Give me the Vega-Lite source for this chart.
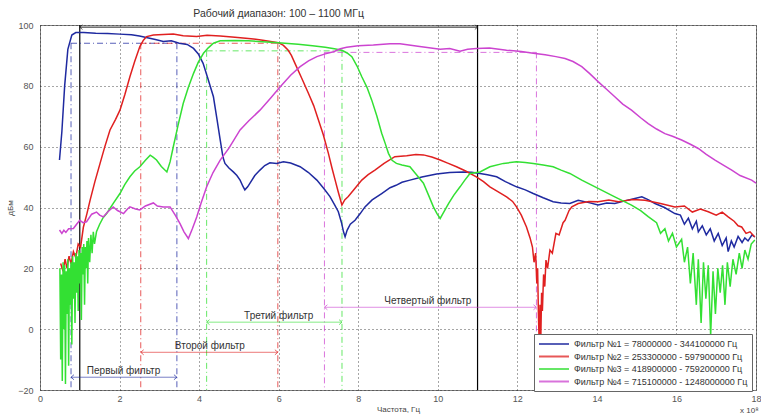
{
  "$schema": "https://vega.github.io/schema/vega-lite/v6.json",
  "width": 716,
  "height": 365,
  "autosize": {"type": "none"},
  "padding": {"left": 40, "top": 25, "right": 5, "bottom": 29},
  "background": "white",
  "config": {
    "font": "Liberation Sans",
    "view": {"stroke": "#808080", "strokeWidth": 1},
    "axis": {
      "grid": true, "gridColor": "#222", "gridDash": [1, 3], "gridOpacity": 0.8,
      "domain": false, "ticks": false, "labelColor": "#555", "labelFontSize": 9,
      "titleFontWeight": "normal", "titleFontSize": 8, "titleColor": "#444"
    },
    "axisX": {"labelFlush": false, "labelOverlap": false, "labelBound": false, "labelPadding": 4, "titlePadding": 2},
    "axisY": {"labelPadding": 7, "titlePadding": 3}
  },
  "datasets": {
    "curves": [
      {"s":"F1","x":0.49,"y":55.6},{"s":"F1","x":0.55,"y":65},{"s":"F1","x":0.62,"y":80},{"s":"F1","x":0.7,"y":92},{"s":"F1","x":0.8,"y":96.7},{"s":"F1","x":0.9,"y":97.5},{"s":"F1","x":1.1,"y":97.5},{"s":"F1","x":1.4,"y":97.3},{"s":"F1","x":1.7,"y":97.2},{"s":"F1","x":2.0,"y":97.0},{"s":"F1","x":2.3,"y":96.8},{"s":"F1","x":2.5,"y":96.4},{"s":"F1","x":2.7,"y":95.8},{"s":"F1","x":2.9,"y":95.2},{"s":"F1","x":3.1,"y":94.6},{"s":"F1","x":3.3,"y":94.8},{"s":"F1","x":3.5,"y":94.0},{"s":"F1","x":3.7,"y":93.6},{"s":"F1","x":3.86,"y":92.3},{"s":"F1","x":3.98,"y":90.5},{"s":"F1","x":4.1,"y":87.4},{"s":"F1","x":4.23,"y":82},{"s":"F1","x":4.36,"y":76.4},{"s":"F1","x":4.45,"y":69},{"s":"F1","x":4.53,"y":62.2},{"s":"F1","x":4.6,"y":56.5},{"s":"F1","x":4.65,"y":54.5},{"s":"F1","x":4.75,"y":53},{"s":"F1","x":4.86,"y":51.7},{"s":"F1","x":4.95,"y":50.5},{"s":"F1","x":5.03,"y":49},{"s":"F1","x":5.1,"y":47},{"s":"F1","x":5.15,"y":45.8},{"s":"F1","x":5.22,"y":46.8},{"s":"F1","x":5.28,"y":48},{"s":"F1","x":5.4,"y":50.5},{"s":"F1","x":5.53,"y":52.3},{"s":"F1","x":5.65,"y":53.8},{"s":"F1","x":5.78,"y":54.7},{"s":"F1","x":5.95,"y":54.5},{"s":"F1","x":6.12,"y":55.0},{"s":"F1","x":6.3,"y":54.6},{"s":"F1","x":6.54,"y":53.4},{"s":"F1","x":6.75,"y":51.5},{"s":"F1","x":6.96,"y":49},{"s":"F1","x":7.15,"y":46},{"s":"F1","x":7.29,"y":43.6},{"s":"F1","x":7.4,"y":41},{"s":"F1","x":7.5,"y":38.6},{"s":"F1","x":7.58,"y":35},{"s":"F1","x":7.63,"y":32},{"s":"F1","x":7.67,"y":30.4},{"s":"F1","x":7.72,"y":32.5},{"s":"F1","x":7.8,"y":34.5},{"s":"F1","x":7.92,"y":35.8},{"s":"F1","x":8.05,"y":38},{"s":"F1","x":8.17,"y":40.2},{"s":"F1","x":8.35,"y":42.5},{"s":"F1","x":8.59,"y":44.6},{"s":"F1","x":8.8,"y":46.5},{"s":"F1","x":8.95,"y":47.3},{"s":"F1","x":9.1,"y":48.3},{"s":"F1","x":9.3,"y":49},{"s":"F1","x":9.6,"y":50},{"s":"F1","x":9.97,"y":51},{"s":"F1","x":10.3,"y":51.5},{"s":"F1","x":10.64,"y":51.7},{"s":"F1","x":10.85,"y":51.6},{"s":"F1","x":11.06,"y":51.2},{"s":"F1","x":11.25,"y":50.8},{"s":"F1","x":11.48,"y":50.1},{"s":"F1","x":11.7,"y":48.5},{"s":"F1","x":11.98,"y":46.8},{"s":"F1","x":12.2,"y":45.8},{"s":"F1","x":12.4,"y":44.6},{"s":"F1","x":12.65,"y":43.2},{"s":"F1","x":12.9,"y":41.9},{"s":"F1","x":13.1,"y":41.5},{"s":"F1","x":13.32,"y":41.3},{"s":"F1","x":13.53,"y":42.4},{"s":"F1","x":13.8,"y":41.6},{"s":"F1","x":14.03,"y":40.8},{"s":"F1","x":14.25,"y":41.5},{"s":"F1","x":14.45,"y":41.3},{"s":"F1","x":14.8,"y":42.5},{"s":"F1","x":15.13,"y":43.5},{"s":"F1","x":15.3,"y":42.5},{"s":"F1","x":15.46,"y":41.3},{"s":"F1","x":15.7,"y":40},{"s":"F1","x":15.96,"y":38.0},{"s":"F1","x":16.1,"y":37.5},{"s":"F1","x":16.2,"y":34.5},{"s":"F1","x":16.3,"y":36.5},{"s":"F1","x":16.4,"y":33},{"s":"F1","x":16.5,"y":35.5},{"s":"F1","x":16.55,"y":32},{"s":"F1","x":16.65,"y":34},{"s":"F1","x":16.75,"y":31},{"s":"F1","x":16.85,"y":33},{"s":"F1","x":16.95,"y":29},{"s":"F1","x":17.05,"y":31.5},{"s":"F1","x":17.15,"y":27.5},{"s":"F1","x":17.25,"y":30},{"s":"F1","x":17.3,"y":25.5},{"s":"F1","x":17.38,"y":29},{"s":"F1","x":17.45,"y":27},{"s":"F1","x":17.55,"y":30.5},{"s":"F1","x":17.65,"y":28.5},{"s":"F1","x":17.72,"y":30},{"s":"F1","x":17.8,"y":29},{"s":"F1","x":17.9,"y":31},{"s":"F1","x":17.97,"y":30.3},

      {"s":"F2","x":0.52,"y":21.6},{"s":"F2","x":0.58,"y":19},{"s":"F2","x":0.63,"y":23},{"s":"F2","x":0.68,"y":20},{"s":"F2","x":0.73,"y":24},{"s":"F2","x":0.78,"y":21.5},{"s":"F2","x":0.84,"y":25.5},{"s":"F2","x":0.9,"y":23.5},{"s":"F2","x":0.96,"y":28},{"s":"F2","x":1.02,"y":27},{"s":"F2","x":1.09,"y":33.5},{"s":"F2","x":1.18,"y":38},{"s":"F2","x":1.26,"y":42.4},{"s":"F2","x":1.38,"y":48.5},{"s":"F2","x":1.51,"y":54.5},{"s":"F2","x":1.63,"y":60},{"s":"F2","x":1.76,"y":65.5},{"s":"F2","x":1.9,"y":69},{"s":"F2","x":2.01,"y":72},{"s":"F2","x":2.13,"y":77},{"s":"F2","x":2.26,"y":83},{"s":"F2","x":2.38,"y":88},{"s":"F2","x":2.51,"y":92.9},{"s":"F2","x":2.6,"y":95},{"s":"F2","x":2.68,"y":96.2},{"s":"F2","x":2.85,"y":96.7},{"s":"F2","x":3.1,"y":96.9},{"s":"F2","x":3.35,"y":97},{"s":"F2","x":3.6,"y":96.5},{"s":"F2","x":3.94,"y":96.2},{"s":"F2","x":4.2,"y":96.6},{"s":"F2","x":4.53,"y":96.4},{"s":"F2","x":4.9,"y":96},{"s":"F2","x":5.24,"y":95.6},{"s":"F2","x":5.6,"y":95},{"s":"F2","x":5.99,"y":94.2},{"s":"F2","x":6.12,"y":93.3},{"s":"F2","x":6.24,"y":91.7},{"s":"F2","x":6.32,"y":90},{"s":"F2","x":6.41,"y":87.4},{"s":"F2","x":6.58,"y":82.5},{"s":"F2","x":6.75,"y":77.5},{"s":"F2","x":6.88,"y":73.5},{"s":"F2","x":7.0,"y":68.8},{"s":"F2","x":7.12,"y":64},{"s":"F2","x":7.25,"y":57.8},{"s":"F2","x":7.34,"y":53},{"s":"F2","x":7.42,"y":49},{"s":"F2","x":7.5,"y":45},{"s":"F2","x":7.59,"y":40.8},{"s":"F2","x":7.66,"y":42.5},{"s":"F2","x":7.75,"y":43.6},{"s":"F2","x":7.9,"y":46},{"s":"F2","x":8.09,"y":49},{"s":"F2","x":8.25,"y":50.8},{"s":"F2","x":8.42,"y":52.3},{"s":"F2","x":8.65,"y":54.5},{"s":"F2","x":8.92,"y":56.7},{"s":"F2","x":9.22,"y":57},{"s":"F2","x":9.45,"y":57.4},{"s":"F2","x":9.64,"y":57.3},{"s":"F2","x":9.85,"y":56.6},{"s":"F2","x":10.06,"y":55.6},{"s":"F2","x":10.25,"y":54.6},{"s":"F2","x":10.47,"y":53.4},{"s":"F2","x":10.7,"y":52},{"s":"F2","x":10.97,"y":50.1},{"s":"F2","x":11.15,"y":48.5},{"s":"F2","x":11.31,"y":46.8},{"s":"F2","x":11.5,"y":45.3},{"s":"F2","x":11.73,"y":43.5},{"s":"F2","x":11.88,"y":42},{"s":"F2","x":11.98,"y":40.2},{"s":"F2","x":12.1,"y":37.5},{"s":"F2","x":12.23,"y":33.6},{"s":"F2","x":12.32,"y":30},{"s":"F2","x":12.38,"y":27},{"s":"F2","x":12.42,"y":22},{"s":"F2","x":12.46,"y":25},{"s":"F2","x":12.49,"y":15},{"s":"F2","x":12.51,"y":20},{"s":"F2","x":12.53,"y":5},{"s":"F2","x":12.55,"y":-5},{"s":"F2","x":12.57,"y":8},{"s":"F2","x":12.59,"y":-3},{"s":"F2","x":12.61,"y":12},{"s":"F2","x":12.63,"y":6},{"s":"F2","x":12.66,"y":18},{"s":"F2","x":12.69,"y":14},{"s":"F2","x":12.72,"y":22.7},{"s":"F2","x":12.76,"y":20},{"s":"F2","x":12.82,"y":26},{"s":"F2","x":12.88,"y":25},{"s":"F2","x":12.97,"y":31.5},{"s":"F2","x":13.05,"y":31},{"s":"F2","x":13.15,"y":35},{"s":"F2","x":13.2,"y":35.8},{"s":"F2","x":13.3,"y":39},{"s":"F2","x":13.37,"y":40.2},{"s":"F2","x":13.53,"y":41.3},{"s":"F2","x":13.8,"y":42},{"s":"F2","x":14.03,"y":41.9},{"s":"F2","x":14.3,"y":42.5},{"s":"F2","x":14.54,"y":41.9},{"s":"F2","x":14.9,"y":42.6},{"s":"F2","x":15.21,"y":42.4},{"s":"F2","x":15.6,"y":41.3},{"s":"F2","x":15.96,"y":40.2},{"s":"F2","x":16.2,"y":40.5},{"s":"F2","x":16.4,"y":38.5},{"s":"F2","x":16.6,"y":39.5},{"s":"F2","x":16.8,"y":38.6},{"s":"F2","x":17.0,"y":37.5},{"s":"F2","x":17.15,"y":38.5},{"s":"F2","x":17.3,"y":36.9},{"s":"F2","x":17.45,"y":35.5},{"s":"F2","x":17.55,"y":34},{"s":"F2","x":17.64,"y":33.6},{"s":"F2","x":17.75,"y":31.5},{"s":"F2","x":17.85,"y":32},{"s":"F2","x":17.97,"y":30.3},

      {"s":"F3","x":0.5,"y":20},{"s":"F3","x":0.52,"y":-10},{"s":"F3","x":0.54,"y":18},{"s":"F3","x":0.56,"y":-17},{"s":"F3","x":0.58,"y":22},{"s":"F3","x":0.6,"y":0},{"s":"F3","x":0.62,"y":21},{"s":"F3","x":0.64,"y":-18},{"s":"F3","x":0.66,"y":19},{"s":"F3","x":0.68,"y":5},{"s":"F3","x":0.7,"y":23},{"s":"F3","x":0.72,"y":-12},{"s":"F3","x":0.74,"y":20},{"s":"F3","x":0.76,"y":8},{"s":"F3","x":0.78,"y":22},{"s":"F3","x":0.8,"y":-5},{"s":"F3","x":0.82,"y":24},{"s":"F3","x":0.84,"y":10},{"s":"F3","x":0.86,"y":22},{"s":"F3","x":0.88,"y":2},{"s":"F3","x":0.9,"y":25},{"s":"F3","x":0.92,"y":12},{"s":"F3","x":0.94,"y":24},{"s":"F3","x":0.96,"y":6},{"s":"F3","x":0.98,"y":26},{"s":"F3","x":1.0,"y":15},{"s":"F3","x":1.02,"y":25},{"s":"F3","x":1.04,"y":3},{"s":"F3","x":1.06,"y":27},{"s":"F3","x":1.08,"y":18},{"s":"F3","x":1.1,"y":28},{"s":"F3","x":1.12,"y":8},{"s":"F3","x":1.14,"y":27},{"s":"F3","x":1.16,"y":20},{"s":"F3","x":1.18,"y":29},{"s":"F3","x":1.2,"y":15},{"s":"F3","x":1.22,"y":30},{"s":"F3","x":1.25,"y":22},{"s":"F3","x":1.28,"y":31},{"s":"F3","x":1.31,"y":25},{"s":"F3","x":1.34,"y":32},{"s":"F3","x":1.37,"y":28},{"s":"F3","x":1.42,"y":32},{"s":"F3","x":1.5,"y":34.5},{"s":"F3","x":1.58,"y":36.5},{"s":"F3","x":1.68,"y":38.1},{"s":"F3","x":1.85,"y":41.5},{"s":"F3","x":2.01,"y":44.6},{"s":"F3","x":2.13,"y":47.5},{"s":"F3","x":2.26,"y":50.1},{"s":"F3","x":2.38,"y":52},{"s":"F3","x":2.51,"y":53.4},{"s":"F3","x":2.65,"y":55.5},{"s":"F3","x":2.77,"y":57.2},{"s":"F3","x":2.85,"y":56.5},{"s":"F3","x":2.93,"y":55.6},{"s":"F3","x":3.05,"y":53.5},{"s":"F3","x":3.19,"y":51.7},{"s":"F3","x":3.27,"y":55},{"s":"F3","x":3.35,"y":59.9},{"s":"F3","x":3.47,"y":67},{"s":"F3","x":3.6,"y":74.2},{"s":"F3","x":3.73,"y":79.5},{"s":"F3","x":3.86,"y":84.1},{"s":"F3","x":3.98,"y":87.8},{"s":"F3","x":4.11,"y":90.7},{"s":"F3","x":4.23,"y":92.5},{"s":"F3","x":4.36,"y":94},{"s":"F3","x":4.53,"y":94.8},{"s":"F3","x":4.9,"y":94.9},{"s":"F3","x":5.24,"y":94.8},{"s":"F3","x":5.6,"y":94.5},{"s":"F3","x":5.99,"y":94.2},{"s":"F3","x":6.49,"y":93.7},{"s":"F3","x":6.85,"y":93.2},{"s":"F3","x":7.17,"y":92.7},{"s":"F3","x":7.4,"y":92.2},{"s":"F3","x":7.59,"y":91.7},{"s":"F3","x":7.72,"y":90.8},{"s":"F3","x":7.84,"y":89.6},{"s":"F3","x":7.97,"y":86.5},{"s":"F3","x":8.09,"y":83},{"s":"F3","x":8.22,"y":79.5},{"s":"F3","x":8.34,"y":75.3},{"s":"F3","x":8.47,"y":70},{"s":"F3","x":8.59,"y":64.4},{"s":"F3","x":8.68,"y":61},{"s":"F3","x":8.76,"y":57.8},{"s":"F3","x":8.85,"y":55.5},{"s":"F3","x":8.96,"y":54.5},{"s":"F3","x":9.1,"y":54},{"s":"F3","x":9.3,"y":53.4},{"s":"F3","x":9.45,"y":51},{"s":"F3","x":9.64,"y":48},{"s":"F3","x":9.77,"y":44},{"s":"F3","x":9.89,"y":40.2},{"s":"F3","x":9.98,"y":38},{"s":"F3","x":10.06,"y":36.4},{"s":"F3","x":10.15,"y":38.5},{"s":"F3","x":10.27,"y":41.3},{"s":"F3","x":10.4,"y":44},{"s":"F3","x":10.56,"y":46.8},{"s":"F3","x":10.68,"y":49},{"s":"F3","x":10.81,"y":51.2},{"s":"F3","x":11.06,"y":51.7},{"s":"F3","x":11.31,"y":53.4},{"s":"F3","x":11.65,"y":54.5},{"s":"F3","x":11.98,"y":55},{"s":"F3","x":12.2,"y":54.8},{"s":"F3","x":12.4,"y":54.5},{"s":"F3","x":12.65,"y":54},{"s":"F3","x":12.9,"y":53.4},{"s":"F3","x":13.1,"y":52.3},{"s":"F3","x":13.32,"y":51.2},{"s":"F3","x":13.62,"y":49},{"s":"F3","x":14.03,"y":46.3},{"s":"F3","x":14.45,"y":43.5},{"s":"F3","x":14.87,"y":40.8},{"s":"F3","x":15.1,"y":39},{"s":"F3","x":15.29,"y":37},{"s":"F3","x":15.5,"y":35},{"s":"F3","x":15.6,"y":31.5},{"s":"F3","x":15.71,"y":33},{"s":"F3","x":15.8,"y":29},{"s":"F3","x":15.9,"y":31.5},{"s":"F3","x":16.0,"y":27},{"s":"F3","x":16.13,"y":29.5},{"s":"F3","x":16.2,"y":22},{"s":"F3","x":16.28,"y":27},{"s":"F3","x":16.35,"y":15},{"s":"F3","x":16.42,"y":25},{"s":"F3","x":16.5,"y":8},{"s":"F3","x":16.55,"y":23},{"s":"F3","x":16.62,"y":2},{"s":"F3","x":16.68,"y":22},{"s":"F3","x":16.74,"y":10},{"s":"F3","x":16.8,"y":21},{"s":"F3","x":16.86,"y":-2},{"s":"F3","x":16.92,"y":19},{"s":"F3","x":16.98,"y":5},{"s":"F3","x":17.04,"y":20},{"s":"F3","x":17.1,"y":12},{"s":"F3","x":17.16,"y":21},{"s":"F3","x":17.22,"y":8},{"s":"F3","x":17.28,"y":22},{"s":"F3","x":17.35,"y":14},{"s":"F3","x":17.42,"y":23},{"s":"F3","x":17.5,"y":18},{"s":"F3","x":17.58,"y":25},{"s":"F3","x":17.65,"y":20},{"s":"F3","x":17.72,"y":26},{"s":"F3","x":17.8,"y":23},{"s":"F3","x":17.88,"y":28},{"s":"F3","x":17.97,"y":29.3},

      {"s":"F4","x":0.49,"y":32.6},{"s":"F4","x":0.55,"y":31.5},{"s":"F4","x":0.6,"y":32.5},{"s":"F4","x":0.65,"y":31.8},{"s":"F4","x":0.72,"y":33},{"s":"F4","x":0.84,"y":33.1},{"s":"F4","x":0.92,"y":34.5},{"s":"F4","x":1.0,"y":35.8},{"s":"F4","x":1.08,"y":35},{"s":"F4","x":1.17,"y":35.3},{"s":"F4","x":1.3,"y":37.8},{"s":"F4","x":1.42,"y":38.5},{"s":"F4","x":1.5,"y":37.5},{"s":"F4","x":1.59,"y":36.9},{"s":"F4","x":1.7,"y":38.5},{"s":"F4","x":1.84,"y":40.2},{"s":"F4","x":1.95,"y":39},{"s":"F4","x":2.1,"y":38},{"s":"F4","x":2.2,"y":39.5},{"s":"F4","x":2.26,"y":40.2},{"s":"F4","x":2.4,"y":39.5},{"s":"F4","x":2.51,"y":39.2},{"s":"F4","x":2.65,"y":40.5},{"s":"F4","x":2.85,"y":41.5},{"s":"F4","x":2.95,"y":40.5},{"s":"F4","x":3.1,"y":40.2},{"s":"F4","x":3.27,"y":40.2},{"s":"F4","x":3.4,"y":37.5},{"s":"F4","x":3.52,"y":34.7},{"s":"F4","x":3.62,"y":32},{"s":"F4","x":3.73,"y":29.8},{"s":"F4","x":3.83,"y":33},{"s":"F4","x":3.94,"y":36.9},{"s":"F4","x":4.05,"y":41.5},{"s":"F4","x":4.19,"y":46.8},{"s":"F4","x":4.35,"y":51.5},{"s":"F4","x":4.53,"y":55.6},{"s":"F4","x":4.75,"y":59.5},{"s":"F4","x":5.03,"y":65.5},{"s":"F4","x":5.25,"y":68.5},{"s":"F4","x":5.53,"y":72},{"s":"F4","x":5.8,"y":76},{"s":"F4","x":6.04,"y":79.7},{"s":"F4","x":6.3,"y":83.5},{"s":"F4","x":6.54,"y":86.3},{"s":"F4","x":6.75,"y":88.2},{"s":"F4","x":6.96,"y":89.6},{"s":"F4","x":7.17,"y":90.5},{"s":"F4","x":7.38,"y":91.2},{"s":"F4","x":7.55,"y":92.2},{"s":"F4","x":7.71,"y":92.7},{"s":"F4","x":8.0,"y":93.2},{"s":"F4","x":8.38,"y":93.4},{"s":"F4","x":8.8,"y":93.8},{"s":"F4","x":9.05,"y":93.8},{"s":"F4","x":9.5,"y":93},{"s":"F4","x":10.06,"y":92},{"s":"F4","x":10.3,"y":92.3},{"s":"F4","x":10.56,"y":91.4},{"s":"F4","x":10.75,"y":92},{"s":"F4","x":10.97,"y":92.3},{"s":"F4","x":11.3,"y":92.4},{"s":"F4","x":11.73,"y":91.7},{"s":"F4","x":12.1,"y":91.3},{"s":"F4","x":12.4,"y":90.7},{"s":"F4","x":12.7,"y":90.2},{"s":"F4","x":12.97,"y":89.6},{"s":"F4","x":13.2,"y":89.0},{"s":"F4","x":13.4,"y":88},{"s":"F4","x":13.62,"y":86.3},{"s":"F4","x":13.82,"y":84},{"s":"F4","x":14.03,"y":81.4},{"s":"F4","x":14.25,"y":78.8},{"s":"F4","x":14.45,"y":76.4},{"s":"F4","x":14.65,"y":74},{"s":"F4","x":14.87,"y":72},{"s":"F4","x":15.1,"y":69.5},{"s":"F4","x":15.29,"y":67.6},{"s":"F4","x":15.5,"y":65.8},{"s":"F4","x":15.71,"y":64.3},{"s":"F4","x":15.9,"y":63.4},{"s":"F4","x":16.13,"y":62.2},{"s":"F4","x":16.35,"y":60.8},{"s":"F4","x":16.55,"y":59.4},{"s":"F4","x":16.75,"y":57.5},{"s":"F4","x":16.97,"y":55.6},{"s":"F4","x":17.2,"y":53.8},{"s":"F4","x":17.39,"y":52.3},{"s":"F4","x":17.6,"y":50.5},{"s":"F4","x":17.89,"y":49},{"s":"F4","x":18.0,"y":48}
    ],
    "guides": [
      {"s":"F1","lo":0.78,"hi":3.441,"top":94},
      {"s":"F2","lo":2.533,"hi":5.979,"top":94},
      {"s":"F3","lo":4.189,"hi":7.592,"top":91.5},
      {"s":"F4","lo":7.151,"hi":12.48,"top":91}
    ],
    "arrows": [
      {"s":"F1","x1":0.78,"x2":3.441,"y":-15.8,"tx":2.1,"label":"Первый фильтр"},
      {"s":"F2","x1":2.533,"x2":5.979,"y":-7.6,"tx":4.27,"label":"Второй фильтр"},
      {"s":"F3","x1":4.189,"x2":7.592,"y":2.3,"tx":6.0,"label":"Третий фильтр"},
      {"s":"F4","x1":7.151,"x2":12.48,"y":7.2,"tx":9.75,"label":"Четвертый фильтр"}
    ],
    "range": [{"x1":1,"x2":11,"y":99.3,"tx":6,"ty":103.6,"label":"Рабочий диапазон: 100 – 1100 МГц"}],
    "bounds": [{"x":1},{"x":11}],
    "mult": [{"x":17.6,"y":-27,"t":"x 10⁸"}]
  },
  "layer": [
    {
      "data": {"name": "bounds"},
      "mark": {"type": "rule", "color": "black", "strokeWidth": 1.2},
      "encoding": {
        "x": {"field": "x", "type": "quantitative", "title": "Частота, Гц", "scale": {"domain": [0, 18], "nice": false, "zero": false},
              "axis": {"values": [0, 2, 4, 6, 8, 10, 12, 14, 16, 18]}}
      }
    },
    {
      "data": {"name": "guides"},
      "mark": {"type": "rule", "strokeDash": [6, 3, 1, 3], "strokeWidth": 1, "opacity": 0.75},
      "encoding": {
        "x": {"field": "lo", "type": "quantitative", "title": "Частота, Гц"},
        "y": {"field": "top", "type": "quantitative", "title": "дБм", "scale": {"domain": [-20, 100], "nice": false, "zero": false},
              "axis": {"values": [-20, 0, 20, 40, 60, 80, 100]}},
        "y2": {"datum": -20},
        "color": {"field": "s", "type": "nominal"}
      }
    },
    {
      "data": {"name": "guides"},
      "mark": {"type": "rule", "strokeDash": [6, 3, 1, 3], "strokeWidth": 1, "opacity": 0.75},
      "encoding": {
        "x": {"field": "hi", "type": "quantitative", "title": "Частота, Гц"},
        "y": {"field": "top", "type": "quantitative", "title": "дБм"},
        "y2": {"datum": -20},
        "color": {"field": "s", "type": "nominal"}
      }
    },
    {
      "data": {"name": "guides"},
      "mark": {"type": "rule", "strokeDash": [6, 3, 1, 3], "strokeWidth": 1, "opacity": 0.75},
      "encoding": {
        "x": {"field": "lo", "type": "quantitative", "title": "Частота, Гц"},
        "x2": {"field": "hi"},
        "y": {"field": "top", "type": "quantitative", "title": "дБм"},
        "color": {"field": "s", "type": "nominal"}
      }
    },
    {
      "data": {"name": "arrows"},
      "mark": {"type": "rule", "strokeWidth": 1, "opacity": 0.6},
      "encoding": {
        "x": {"field": "x1", "type": "quantitative", "title": "Частота, Гц"},
        "x2": {"field": "x2"},
        "y": {"field": "y", "type": "quantitative", "title": "дБм"},
        "color": {"field": "s", "type": "nominal"}
      }
    },
    {
      "data": {"name": "arrows"},
      "mark": {"type": "point", "shape": "M0.7,-0.6L0,0L0.7,0.6", "filled": false, "size": 70, "strokeWidth": 1, "opacity": 0.7},
      "encoding": {
        "x": {"field": "x1", "type": "quantitative", "title": "Частота, Гц"},
        "y": {"field": "y", "type": "quantitative", "title": "дБм"},
        "color": {"field": "s", "type": "nominal"}
      }
    },
    {
      "data": {"name": "arrows"},
      "mark": {"type": "point", "shape": "M-0.7,-0.6L0,0L-0.7,0.6", "filled": false, "size": 70, "strokeWidth": 1, "opacity": 0.7},
      "encoding": {
        "x": {"field": "x2", "type": "quantitative", "title": "Частота, Гц"},
        "y": {"field": "y", "type": "quantitative", "title": "дБм"},
        "color": {"field": "s", "type": "nominal"}
      }
    },
    {
      "data": {"name": "arrows"},
      "mark": {"type": "text", "fontSize": 10, "color": "#333", "dy": -6, "baseline": "middle"},
      "encoding": {
        "x": {"field": "tx", "type": "quantitative", "title": "Частота, Гц"},
        "y": {"field": "y", "type": "quantitative", "title": "дБм"},
        "text": {"field": "label"}
      }
    },
    {
      "data": {"name": "range"},
      "mark": {"type": "rule", "color": "#222", "strokeWidth": 1},
      "encoding": {
        "x": {"field": "x1", "type": "quantitative", "title": "Частота, Гц"},
        "x2": {"field": "x2"},
        "y": {"field": "y", "type": "quantitative", "title": "дБм"}
      }
    },
    {
      "data": {"name": "range"},
      "mark": {"type": "point", "shape": "M0.7,-0.6L0,0L0.7,0.6", "filled": false, "size": 60, "strokeWidth": 1, "color": "#222"},
      "encoding": {
        "x": {"field": "x1", "type": "quantitative", "title": "Частота, Гц"},
        "y": {"field": "y", "type": "quantitative", "title": "дБм"}
      }
    },
    {
      "data": {"name": "range"},
      "mark": {"type": "point", "shape": "M-0.7,-0.6L0,0L-0.7,0.6", "filled": false, "size": 60, "strokeWidth": 1, "color": "#222"},
      "encoding": {
        "x": {"field": "x2", "type": "quantitative", "title": "Частота, Гц"},
        "y": {"field": "y", "type": "quantitative", "title": "дБм"}
      }
    },
    {
      "data": {"name": "range"},
      "mark": {"type": "text", "fontSize": 10.5, "color": "#333", "baseline": "middle"},
      "encoding": {
        "x": {"field": "tx", "type": "quantitative", "title": "Частота, Гц"},
        "y": {"field": "ty", "type": "quantitative", "title": "дБм"},
        "text": {"field": "label"}
      }
    },
    {
      "data": {"name": "curves"},
      "mark": {"type": "line", "strokeWidth": 1.5, "interpolate": "linear"},
      "encoding": {
        "x": {"field": "x", "type": "quantitative", "title": "Частота, Гц"},
        "y": {"field": "y", "type": "quantitative", "title": "дБм"},
        "color": {
          "field": "s", "type": "nominal",
          "scale": {"domain": ["F1", "F2", "F3", "F4"], "range": ["#1f2aa0", "#e02020", "#33e033", "#cc44d0"]},
          "legend": {
            "orient": "none", "legendX": 494, "legendY": 309, "title": null,
            "fillColor": "white", "strokeColor": "#666", "padding": 4,
            "symbolType": "M-3,0H3", "symbolSize": 100, "symbolStrokeWidth": 2, "symbolOffset": 10, "symbolOpacity": 1,
            "labelOffset": 14, "labelFontSize": 9, "labelColor": "#333", "rowPadding": 1.5, "labelLimit": 300,
            "labelExpr": "datum.label == 'F1' ? 'Фильтр №1 = 78000000 - 344100000 Гц' : datum.label == 'F2' ? 'Фильтр №2 = 253300000 - 597900000 Гц' : datum.label == 'F3' ? 'Фильтр №3 = 418900000 - 759200000 Гц' : 'Фильтр №4 = 715100000 - 1248000000 Гц'"
          }
        }
      }
    },
    {
      "data": {"name": "mult"},
      "mark": {"type": "text", "fontSize": 8, "color": "#444", "align": "left", "baseline": "middle"},
      "encoding": {
        "x": {"field": "x", "type": "quantitative", "title": "Частота, Гц"},
        "y": {"field": "y", "type": "quantitative", "title": "дБм"},
        "text": {"field": "t"}
      }
    }
  ]
}
